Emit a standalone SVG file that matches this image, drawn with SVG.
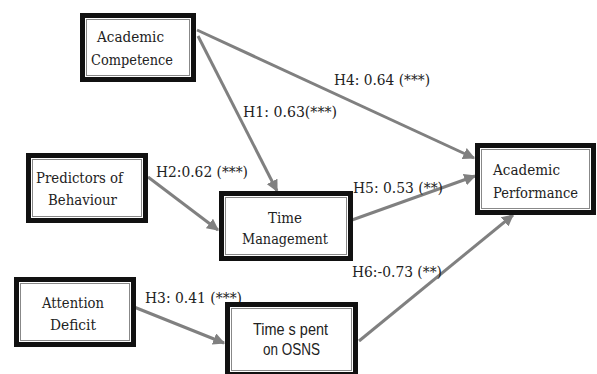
<svg xmlns="http://www.w3.org/2000/svg" width="597" height="374" viewBox="0 0 597 374">
<style>
.box{fill:#fff;stroke:#111;stroke-width:5}
.inner{fill:none;stroke:#888;stroke-width:1}
.t{font-family:'DejaVu Serif','Liberation Serif',serif;font-size:15px;fill:#222}
.s{font-family:'Liberation Sans','DejaVu Sans',sans-serif;font-size:16px;fill:#222}
.c{fill:none;stroke:#808080;stroke-width:3}
</style>
<defs>
<marker id="ah" viewBox="0 0 10 10" refX="9" refY="5" markerWidth="4" markerHeight="4" orient="auto" markerUnits="strokeWidth">
<path d="M0,0 L10,5 L0,10 z" fill="#808080"/>
</marker>
</defs>
<rect x="0" y="0" width="597" height="374" fill="#fff"/>
<g id="connectors">
<line class="c" x1="197" y1="30" x2="474" y2="158" marker-end="url(#ah)"/>
<line class="c" x1="198" y1="36" x2="277" y2="191" marker-end="url(#ah)"/>
<line class="c" x1="148" y1="177" x2="218" y2="230" marker-end="url(#ah)"/>
<line class="c" x1="352" y1="220" x2="475" y2="176" marker-end="url(#ah)"/>
<line class="c" x1="134" y1="307" x2="224" y2="343" marker-end="url(#ah)"/>
<line class="c" x1="359" y1="341" x2="513" y2="215" marker-end="url(#ah)"/>
<text class="t" x="334" y="85" textLength="96" lengthAdjust="spacingAndGlyphs">H4: 0.64 (***)</text>
<text class="t" x="243" y="117" textLength="94" lengthAdjust="spacingAndGlyphs">H1: 0.63(***)</text>
<text class="t" x="156" y="177" textLength="92" lengthAdjust="spacingAndGlyphs">H2:0.62 (***)</text>
<text class="t" x="353" y="193" textLength="90" lengthAdjust="spacingAndGlyphs">H5: 0.53 (**)</text>
<text class="t" x="352" y="277" textLength="90" lengthAdjust="spacingAndGlyphs">H6:-0.73 (**)</text>
<text class="t" x="145" y="303" textLength="97" lengthAdjust="spacingAndGlyphs">H3: 0.41 (***)</text>
</g>
<g id="academic-competence">
<rect class="box" x="82.5" y="15.5" width="111" height="64"/>
<rect class="inner" x="86.5" y="19.5" width="103" height="56"/>
<text class="t" x="97" y="42" textLength="67" lengthAdjust="spacingAndGlyphs">Academic</text>
<text class="t" x="91" y="65" textLength="82" lengthAdjust="spacingAndGlyphs">Competence</text>
</g>
<g id="predictors-of-behaviour">
<rect class="box" x="28.5" y="155.5" width="117" height="65"/>
<rect class="inner" x="32.5" y="159.5" width="109" height="57"/>
<text class="t" x="36" y="183" textLength="87" lengthAdjust="spacingAndGlyphs">Predictors of</text>
<text class="t" x="48" y="205" textLength="69" lengthAdjust="spacingAndGlyphs">Behaviour</text>
</g>
<g id="time-management">
<rect class="box" x="221.5" y="193.5" width="129" height="65"/>
<rect class="inner" x="225.5" y="197.5" width="121" height="57"/>
<text class="t" x="268" y="223" textLength="34" lengthAdjust="spacingAndGlyphs">Time</text>
<text class="t" x="242" y="244" textLength="86" lengthAdjust="spacingAndGlyphs">Management</text>
</g>
<g id="academic-performance">
<rect class="box" x="477.5" y="145.5" width="116" height="67"/>
<rect class="inner" x="481.5" y="149.5" width="108" height="59"/>
<text class="t" x="493" y="175" textLength="67" lengthAdjust="spacingAndGlyphs">Academic</text>
<text class="t" x="493" y="198" textLength="85" lengthAdjust="spacingAndGlyphs">Performance</text>
</g>
<g id="attention-deficit">
<rect class="box" x="16.5" y="279.5" width="117" height="65"/>
<rect class="inner" x="20.5" y="283.5" width="109" height="57"/>
<text class="t" x="42" y="308" textLength="62" lengthAdjust="spacingAndGlyphs">Attention</text>
<text class="t" x="50" y="330" textLength="46" lengthAdjust="spacingAndGlyphs">Deficit</text>
</g>
<g id="time-spent-on-osns">
<rect class="box" x="227.5" y="304.5" width="128" height="70"/>
<rect class="inner" x="231.5" y="308.5" width="120" height="62"/>
<text class="s" x="253" y="335" textLength="75" lengthAdjust="spacingAndGlyphs">Time s pent</text>
<text class="s" x="263" y="355" textLength="57" lengthAdjust="spacingAndGlyphs">on OSNS</text>
</g>
</svg>
